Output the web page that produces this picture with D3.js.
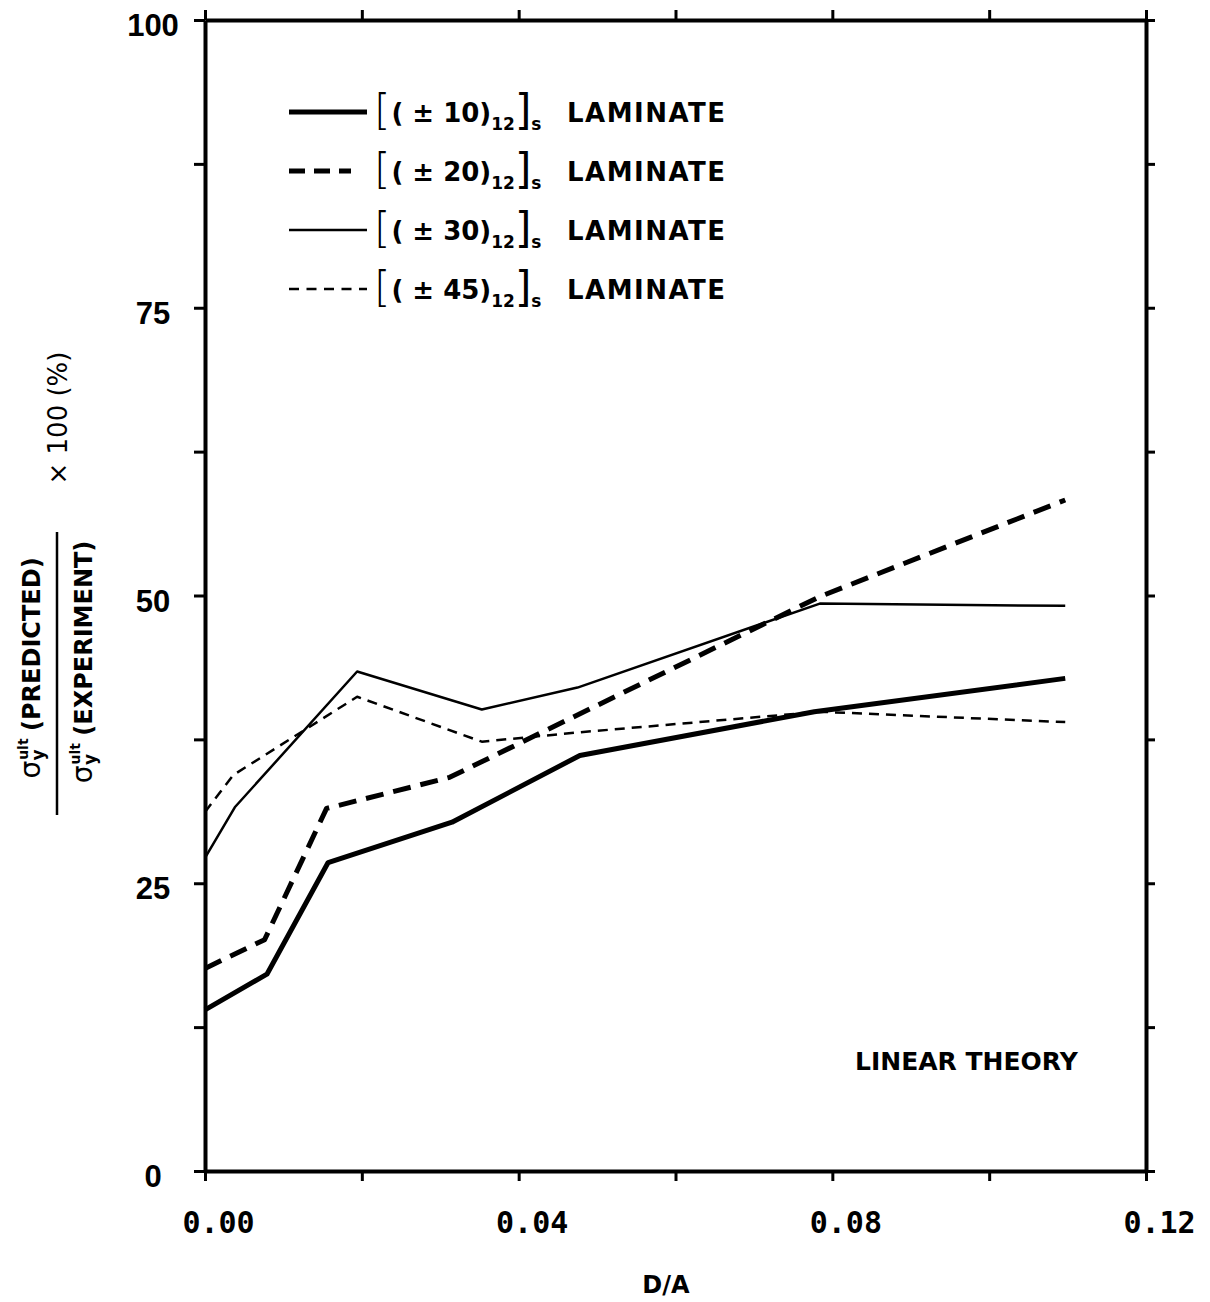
<!DOCTYPE html>
<html>
<head>
<meta charset="utf-8">
<script src="https://cdn.jsdelivr.net/npm/d3@7"></script>
<style>
  html, body { margin: 0; padding: 0; background: #fff; }
  svg { display: block; }
</style>
</head>
<body>
<svg id="chart" width="1210" height="1302"></svg>
<script>
// ---- data ----
const seriesNames = ["(\u00b1 10)", "(\u00b1 20)", "(\u00b1 30)", "(\u00b1 45)"];
const s10 = [[0, 14.0], [0.0079, 17.1], [0.0157, 26.8], [0.0315, 30.3], [0.0478, 36.1], [0.0777, 39.9], [0.1097, 42.8]];
const s20 = [[0, 17.6], [0.0076, 20.1], [0.0155, 31.5], [0.0312, 34.2], [0.0784, 49.9], [0.1097, 58.3]];
const s30 = [[0, 27.2], [0.0038, 31.6], [0.0194, 43.4], [0.0353, 40.1], [0.0475, 42.0], [0.0784, 49.3], [0.1097, 49.1]];
const s45 = [[0, 31.2], [0.0036, 34.4], [0.0194, 41.2], [0.0353, 37.3], [0.0475, 38.1], [0.0784, 39.9], [0.1097, 39.0]];
const xTickValues = [0, 0.02, 0.04, 0.06, 0.08, 0.10, 0.12];
const xTickLabels = ["0.00", "", "0.04", "", "0.08", "", "0.12"];
const yTickValues = [0, 12.5, 25, 37.5, 50, 62.5, 75, 87.5, 100];
const yTickLabels = ["0", "", "25", "", "50", "", "75", "", "100"];

const svg = d3.select("#chart");
const X0 = 205, X1 = 1146, Y0 = 1171, Y1 = 20;
const x = d3.scaleLinear().domain([0, 0.12]).range([X0, X1]);
const y = d3.scaleLinear().domain([0, 100]).range([Y0, Y1]);

// ---- axes (frame with outward ticks on all sides) ----
function styleAxis(g) {
  g.selectAll(".domain").attr("stroke", "#000").attr("stroke-width", 4);
  g.selectAll(".tick line").attr("stroke", "#000").attr("stroke-width", 3);
}
const gLeft = svg.append("g").attr("transform", `translate(${X0},0)`)
  .call(d3.axisLeft(y).tickValues(yTickValues).tickSize(11).tickSizeOuter(0)
    .tickFormat((d, i) => yTickLabels[i]));
styleAxis(gLeft);
gLeft.selectAll("text").attr("x", -52).attr("text-anchor", "middle").attr("dy", "0.5em")
  .attr("font-family", "'Liberation Sans', Arial, sans-serif").attr("font-weight", "bold")
  .attr("font-size", 31).attr("fill", "#000");

const gRight = svg.append("g").attr("transform", `translate(${X1},0)`)
  .call(d3.axisRight(y).tickValues(yTickValues).tickSize(9).tickSizeOuter(0).tickFormat(""));
styleAxis(gRight);

const gTop = svg.append("g").attr("transform", `translate(0,${Y1})`)
  .call(d3.axisTop(x).tickValues(xTickValues).tickSize(10).tickSizeOuter(0).tickFormat(""));
styleAxis(gTop);

const gBottom = svg.append("g").attr("transform", `translate(0,${Y0})`)
  .call(d3.axisBottom(x).tickValues(xTickValues).tickSize(10).tickSizeOuter(0)
    .tickFormat((d, i) => xTickLabels[i]));
styleAxis(gBottom);
gBottom.selectAll("text").attr("x", 13).attr("y", 62).attr("dy", 0)
  .attr("font-family", "'DejaVu Sans Mono', monospace").attr("font-weight", "bold")
  .attr("font-size", 30).attr("fill", "#000");

// ---- lines ----
const line = d3.line().x(d => x(d[0])).y(d => y(d[1]));
const styles = [
  { data: s10, w: 5, dash: null },
  { data: s20, w: 5, dash: "18,10" },
  { data: s30, w: 2.5, dash: null },
  { data: s45, w: 2.5, dash: "10,7" }
];
styles.forEach(s => {
  svg.append("path").datum(s.data).attr("d", line)
    .attr("fill", "none").attr("stroke", "#000").attr("stroke-width", s.w)
    .attr("stroke-linejoin", "round")
    .attr("stroke-dasharray", s.dash);
});

// ---- legend ----
const legY = [112, 171, 230, 289];
const legLen = [78, 62, 78, 78];
const legDash = [null, "16,9", null, "10,7.5"];
styles.forEach((s, i) => {
  const ly = legY[i];
  svg.append("line").attr("x1", 289).attr("x2", 289 + legLen[i]).attr("y1", ly).attr("y2", ly)
    .attr("stroke", "#000").attr("stroke-width", s.w).attr("stroke-dasharray", legDash[i]);
  const t = svg.append("text").attr("x", 374).attr("y", ly + 10)
    .attr("font-family", "'DejaVu Sans', sans-serif").attr("fill", "#000");
  t.append("tspan").attr("font-size", 42).attr("font-weight", 300).attr("dy", 3).text("[");
  t.append("tspan").attr("font-size", 26).attr("font-weight", "bold").attr("dy", -3).attr("dx", 1)
    .text(seriesNames[i].replace("(", "( "));
  t.append("tspan").attr("font-size", 17).attr("font-weight", "bold").attr("dy", 8).text("12");
  t.append("tspan").attr("font-size", 42).attr("dy", -5).text("]");
  t.append("tspan").attr("font-size", 17).attr("font-weight", "bold").attr("dy", 5).text("s");
  svg.append("text").attr("x", 567).attr("y", ly + 10)
    .attr("font-family", "'DejaVu Sans', sans-serif").attr("font-weight", "bold")
    .attr("font-size", 26).attr("fill", "#000").attr("letter-spacing", 1.5).text("LAMINATE");
});

// ---- annotation ----
svg.append("text").attr("x", 855).attr("y", 1070)
  .attr("font-family", "'DejaVu Sans', sans-serif").attr("font-weight", "bold")
  .attr("font-size", 25).attr("fill", "#000").text("LINEAR THEORY");

// ---- axis titles ----
svg.append("text").attr("x", 666).attr("y", 1293).attr("text-anchor", "middle")
  .attr("font-family", "'DejaVu Sans', sans-serif").attr("font-weight", "bold")
  .attr("font-size", 24).attr("fill", "#000").text("D/A");

function sigmaTitle(cx, cy, label) {
  const t = svg.append("text").attr("transform", `translate(${cx},${cy}) rotate(-90)`)
    .attr("text-anchor", "middle").attr("font-family", "'DejaVu Sans', sans-serif")
    .attr("font-weight", "bold").attr("fill", "#000").attr("font-size", 24);
  t.append("tspan").attr("font-size", 28).attr("font-weight", "normal").text("\u03c3");
  t.append("tspan").attr("font-size", 14).attr("dy", -12).attr("dx", 1).text("ult");
  t.append("tspan").attr("font-size", 17).attr("dy", 16).attr("dx", -22).text("y");
  t.append("tspan").attr("dy", -4).attr("dx", 10).text(" " + label);
}
sigmaTitle(40, 668, "(PREDICTED)");
sigmaTitle(92, 662, "(EXPERIMENT)");
svg.append("line").attr("x1", 57).attr("x2", 57).attr("y1", 532).attr("y2", 815)
  .attr("stroke", "#000").attr("stroke-width", 2.5);
svg.append("text").attr("transform", "translate(67,418) rotate(-90)")
  .attr("text-anchor", "middle").attr("font-family", "'DejaVu Sans', sans-serif")
  .attr("font-size", 26).attr("fill", "#000").text("\u00d7  100  (%)");
</script>
</body>
</html>
